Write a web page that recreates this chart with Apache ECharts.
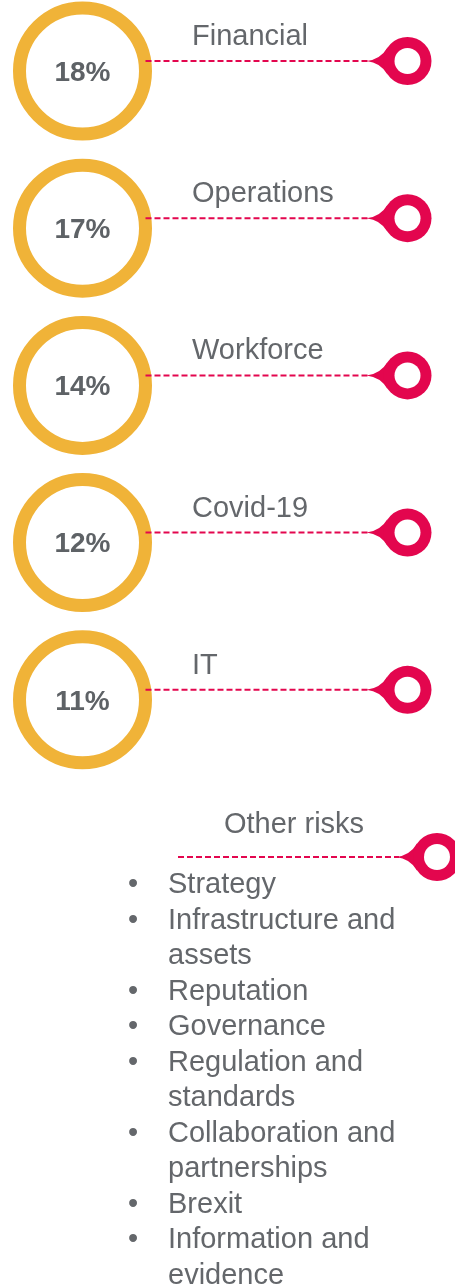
<!DOCTYPE html>
<html><head><meta charset="utf-8">
<script src="https://cdn.jsdelivr.net/npm/echarts@6/dist/echarts.min.js"></script>
<style>html,body{margin:0;padding:0;background:#fff}#c{width:455px;height:1288px}</style>
</head><body><div id="c"></div>
<script>
// ---- data ----
const categories = ['Financial', 'Operations', 'Workforce', 'Covid-19', 'IT'];
const shares = [18, 17, 14, 12, 11];
const otherLabel = 'Other risks';
const otherRisks = ['Strategy', 'Infrastructure and\nassets', 'Reputation', 'Governance',
  'Regulation and\nstandards', 'Collaboration and\npartnerships', 'Brexit', 'Information and\nevidence'];

// ---- style ----
const YELLOW = '#F0B338', RED = '#E3064E', GRAY = '#64676B', PGRAY = '#5E6266';
const FONT = '"Liberation Sans", Arial, Helvetica, sans-serif';
const rows = categories.concat([otherLabel]);

const chart = echarts.init(document.getElementById('c'), null, {renderer: 'canvas'});

function pin(cx, cy) {
  const path = 'M' + (cx - 41) + ' ' + cy +
    ' Q' + (cx - 27) + ' ' + (cy - 1.5) + ' ' + (cx - 20) + ' ' + (cy - 13.5) +
    ' L' + (cx - 20) + ' ' + (cy + 13.5) +
    ' Q' + (cx - 27) + ' ' + (cy + 1.5) + ' ' + (cx - 41) + ' ' + cy + ' Z';
  return [
    {type: 'path', shape: {pathData: path}, style: {fill: RED}},
    {type: 'circle', shape: {cx: cx, cy: cy, r: 24}, style: {fill: RED}},
    {type: 'circle', shape: {cx: cx, cy: cy, r: 13}, style: {fill: '#fff'}}
  ];
}

const option = {
  backgroundColor: '#fff',
  animation: false,
  grid: {left: 0, right: 0, top: 71, bottom: 431},
  xAxis: {type: 'value', min: 0, max: 1, show: false},
  yAxis: {type: 'category', data: rows, inverse: true, boundaryGap: false, show: false},
  series: [
    {
      type: 'custom',
      encode: {x: 0, y: 1},
      data: categories.map((c, i) => ({name: c, value: [0, i, shares[i]]})),
      renderItem: function (params, api) {
        const p = api.coord([0, api.value(1)]);
        const cx = p[0] + 82.5, cy = p[1];
        const ly = cy - 10;
        const px = cx + 325;
        return {
          type: 'group',
          children: [
            {type: 'circle', shape: {cx: cx, cy: cy, r: 63}, style: {fill: '#fff', stroke: YELLOW, lineWidth: 13}},
            {type: 'text', style: {x: cx, y: cy + 2, text: api.value(2) + '%', fill: PGRAY,
              font: 'bold 28px ' + FONT, align: 'center', verticalAlign: 'middle'}},
            {type: 'line', shape: {x1: cx + 63, y1: ly, x2: px - 38, y2: ly},
              style: {stroke: RED, lineWidth: 2, lineDash: [6, 3]}},
            ...pin(px, ly),
            {type: 'text', style: {x: p[0] + 192, y: cy - 34, text: categories[params.dataIndex], fill: GRAY,
              font: '29px ' + FONT, align: 'left', verticalAlign: 'middle'}}
          ]
        };
      }
    },
    {
      type: 'custom',
      encode: {x: 0, y: 1},
      data: [{name: otherLabel, value: [0, categories.length]}],
      renderItem: function (params, api) {
        const p = api.coord([0, api.value(1)]);
        const ly = p[1];
        const px = p[0] + 437;
        const children = [
          {type: 'text', style: {x: p[0] + 294, y: ly - 32, text: otherLabel, fill: GRAY,
            font: '29px ' + FONT, align: 'center', verticalAlign: 'middle'}},
          {type: 'line', shape: {x1: p[0] + 178, y1: ly, x2: px - 38, y2: ly},
            style: {stroke: RED, lineWidth: 2, lineDash: [6, 3]}},
          ...pin(px, ly)
        ];
        const lh = 35.5;
        let y = ly + 28;
        otherRisks.forEach(function (t) {
          children.push({type: 'text', style: {x: p[0] + 133, y: y, text: '•', fill: GRAY,
            font: '29px ' + FONT, align: 'center', verticalAlign: 'middle'}});
          children.push({type: 'text', style: {x: p[0] + 168, y: y - lh / 2, text: t, fill: GRAY,
            font: '29px ' + FONT, lineHeight: lh, align: 'left', verticalAlign: 'top'}});
          y += lh * t.split('\n').length;
        });
        return {type: 'group', children: children};
      }
    }
  ]
};
chart.setOption(option);
</script>
</body></html>
